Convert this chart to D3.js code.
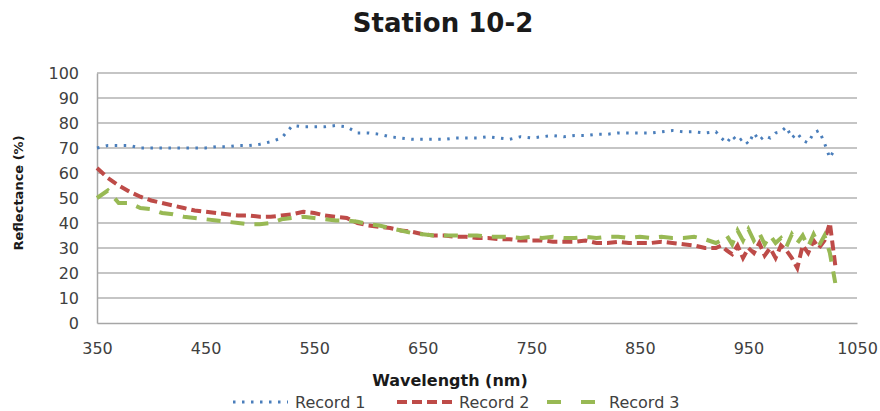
<!DOCTYPE html>
<html>
<head>
<meta charset="utf-8">
<script src="https://cdn.jsdelivr.net/npm/d3@7"></script>
<style>
  body { margin: 0; background: #fff; }
  text { font-family: "DejaVu Sans", sans-serif; }
</style>
</head>
<body>
<div id="chart"></div>
<script>
// chart data
const wavelength = [
  350, 360, 370, 380, 390, 400, 410, 420, 430, 440, 450, 460, 470, 480, 490,
  500, 510, 520, 530, 540, 550, 560, 570, 580, 590, 600, 610, 620, 630, 640,
  650, 660, 670, 680, 690, 700, 710, 720, 730, 740, 750, 760, 770, 780, 790,
  800, 810, 820, 830, 840, 850, 860, 870, 880, 890, 900, 910, 920,
  925, 930, 935, 940, 945, 950, 955, 960, 965, 970, 975, 980, 985, 990, 995,
  1000, 1005, 1010, 1015, 1020, 1025, 1030
];
const record1 = [
  70, 71, 71, 71, 70, 70, 70, 70, 70, 70, 70, 70.5, 70.5, 71, 71,
  71.5, 72.5, 74, 79, 78.5, 78.5, 78.5, 79, 78.5, 76, 76, 75.5, 74.5, 74, 73.5,
  73.5, 73.5, 73.5, 74, 74, 74, 74.5, 74, 73.5, 74.5, 74, 74.5, 75, 74.5, 75,
  75, 75.5, 75.5, 76, 76, 76, 76, 76.5, 77, 76.5, 76.5, 76, 76.5,
  74, 72, 75, 72.5, 74, 71.5, 76, 73, 75, 74, 76, 76.5, 78.5, 74, 76,
  73, 72, 76, 77, 72, 66, 70
];
const record2 = [
  62, 58, 55, 52.5, 50.5, 49, 48, 47, 46, 45, 44.5, 44, 43.5, 43, 43,
  42.5, 42.5, 43, 43.5, 44.5, 44, 43, 42.5, 42, 40, 39, 38.5, 38, 37, 36.5,
  35.5, 35, 35, 34.5, 34.5, 34, 34, 33.5, 33.5, 33, 33, 33, 32.5, 32.5, 32.5,
  33, 32, 32, 32.5, 32, 32, 32, 32.5, 32, 31.5, 31, 30, 30,
  31, 29, 27.5, 31, 26, 30, 28, 32, 27, 30, 26, 31, 29, 26, 22,
  31, 28, 33, 30, 33, 40, 23
];
const record3 = [
  50, 53, 48, 48, 46, 45.5, 44, 43.5, 42.5, 42, 41.5, 41, 40.5, 40, 39.5,
  39.5, 40, 41.5, 42, 42.5, 42, 41.5, 41, 41, 40.5, 39.5, 39, 38, 37, 36,
  35.5, 35, 35, 35, 35, 35, 34.5, 34.5, 34.5, 34, 34.5, 34, 34.5, 34, 34,
  34.5, 34, 34.5, 34.5, 34, 34.5, 34, 34.5, 34, 34, 34.5, 33.5, 32,
  33, 35, 31.5, 37, 33, 37.5, 33, 36, 31.5, 35, 32, 34, 30.5, 35.5, 32,
  35, 30.5, 35.5, 31, 35, 28, 16
];
const seriesNames = ["Record 1", "Record 2", "Record 3"];
const xTicks = [350, 450, 550, 650, 750, 850, 950, 1050];
const yTicks = [0, 10, 20, 30, 40, 50, 60, 70, 80, 90, 100];

const width = 880;
const height = 411;
const margin = { top: 73, right: 23, bottom: 86, left: 97 };

const svg = d3.select("#chart")
  .append("svg")
  .attr("width", width)
  .attr("height", height);

const x = d3.scaleLinear()
  .domain([350, 1050])
  .range([margin.left, width - margin.right]);

const y = d3.scaleLinear()
  .domain([0, 100])
  .range([height - margin.bottom - 2, margin.top]);

// gridlines
svg.append("g")
  .selectAll("line")
  .data(yTicks.slice(1))
  .enter().append("line")
  .attr("x1", x(350))
  .attr("x2", x(1050))
  .attr("y1", d => y(d))
  .attr("y2", d => y(d))
  .style("stroke", "#b2b2b2")
  .style("stroke-width", 1.5);

// y axis
const yAxis = svg.append("g")
  .attr("transform", "translate(" + x(350) + ",0)")
  .call(d3.axisLeft(y).tickValues(yTicks).tickSize(0).tickPadding(18));
yAxis.select(".domain").style("stroke", "#a6a6a6").style("stroke-width", 1.5);
yAxis.selectAll("text")
  .style("font-family", "DejaVu Sans")
  .style("font-size", "16px")
  .style("fill", "#404040");

// x axis
const xAxis = svg.append("g")
  .attr("transform", "translate(0," + y(0) + ")")
  .call(d3.axisBottom(x).tickValues(xTicks).tickFormat(d3.format("d")).tickSize(0).tickPadding(20));
xAxis.select(".domain").style("stroke", "#a6a6a6").style("stroke-width", 1.5);
xAxis.selectAll("text")
  .style("font-family", "DejaVu Sans")
  .style("font-size", "16px")
  .style("fill", "#404040");

// series
const series = [
  { name: seriesNames[0], values: record1, color: "#4a7ebb", dash: "2.5,6.5", width: 3 },
  { name: seriesNames[1], values: record2, color: "#be4b48", dash: "10,5", width: 4 },
  { name: seriesNames[2], values: record3, color: "#98b954", dash: "14,10", width: 4 }
];

const line = d3.line()
  .x((d, i) => x(wavelength[i]))
  .y(d => y(d));

svg.append("g")
  .selectAll("path")
  .data(series)
  .enter().append("path")
  .attr("d", d => line(d.values))
  .style("fill", "none")
  .style("stroke", d => d.color)
  .style("stroke-width", d => d.width)
  .style("stroke-dasharray", d => d.dash);

// title
svg.append("text")
  .attr("x", 443)
  .attr("y", 32)
  .attr("text-anchor", "middle")
  .style("font-size", "26px")
  .style("font-weight", "bold")
  .style("fill", "#1a1a1a")
  .text("Station 10-2");

// axis titles
svg.append("text")
  .attr("x", 450)
  .attr("y", 386)
  .attr("text-anchor", "middle")
  .style("font-size", "16px")
  .style("font-weight", "bold")
  .style("fill", "#1a1a1a")
  .text("Wavelength (nm)");

svg.append("text")
  .attr("transform", "translate(23,193) rotate(-90)")
  .attr("text-anchor", "middle")
  .style("font-size", "13px")
  .style("font-weight", "bold")
  .style("fill", "#1a1a1a")
  .text("Reflectance (%)");

// legend
const legendX = [233, 397, 547];
const legend = svg.append("g")
  .selectAll("g")
  .data(series)
  .enter().append("g")
  .attr("transform", (d, i) => "translate(" + legendX[i] + ",402)");

legend.append("line")
  .attr("x1", 0)
  .attr("x2", 55)
  .style("stroke", d => d.color)
  .style("stroke-width", d => d.width)
  .style("stroke-dasharray", (d, i) => i === 2 ? "14,20" : d.dash);

legend.append("text")
  .attr("x", 62)
  .attr("y", 6)
  .style("font-size", "16px")
  .style("fill", "#404040")
  .text(d => d.name);
</script>
</body>
</html>
